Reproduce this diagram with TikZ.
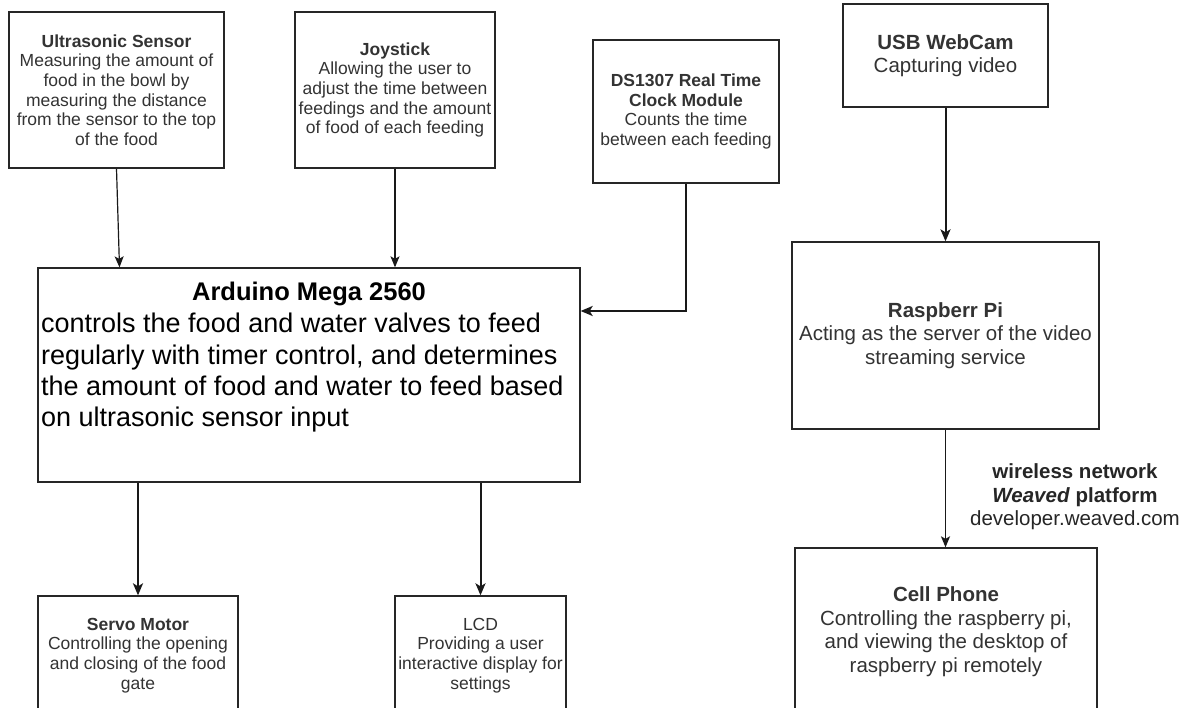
\documentclass[tikz,border=0pt]{standalone}
\usepackage{fontspec}
\setmainfont{Liberation Sans}
\usetikzlibrary{arrows.meta,calc}
\begin{document}
\begin{tikzpicture}[x=1pt,y=-1pt,
  box/.style={draw=black!85, line width=1.3pt, inner sep=0pt, align=center, text=black!80},
  sm/.style={font=\fontsize{17.5}{19.7}\selectfont},
  md/.style={font=\fontsize{20.5}{23.5}\selectfont},
  thinarr/.style={draw=black!90, line width=1.2pt, -{Stealth[length=11pt,width=9pt,inset=2.5pt]}},
  thickarr/.style={draw=black!90, line width=2pt, -{Stealth[length=12pt,width=10pt,inset=3pt]}}]
\useasboundingbox (0,0) rectangle (1186,708);
\clip (0,0) rectangle (1186,708);
\fill[white] (0,0) rectangle (1186,708);

\node[box, sm, minimum width=215pt, minimum height=156pt] (us) at (116.5,90)
  {\textbf{Ultrasonic Sensor}\\Measuring the amount of\\food in the bowl by\\measuring the distance\\from the sensor to the top\\of the food};
\node[box, sm, minimum width=200pt, minimum height=156pt] (joy) at (395,90)
  {\textbf{Joystick}\\Allowing the user to\\adjust the time between\\feedings and the amount\\of food of each feeding};
\node[box, sm, minimum width=186pt, minimum height=143pt] (ds) at (686,111.5)
  {\textbf{DS1307 Real Time}\\\textbf{Clock Module}\\Counts the time\\between each feeding};
\node[box, md, minimum width=205pt, minimum height=103pt] (cam) at (945.5,55.5)
  {\textbf{USB WebCam}\\Capturing video};
\node[box, md, minimum width=307pt, minimum height=187pt] (rpi) at (945.5,335.5)
  {\textbf{Raspberr Pi}\\Acting as the server of the video\\streaming service};
\node[box, md, minimum width=302pt, minimum height=167pt] (cell) at (946,631.5)
  {\textbf{Cell Phone}\\Controlling the raspberry pi,\\and viewing the desktop of\\raspberry pi remotely};
\node[box, minimum width=542pt, minimum height=214pt] (ard) at (309,375) {};
\node[font=\fontsize{25.5}{31}\selectfont\bfseries, inner sep=0pt] (ardt) at (309,294) {Arduino Mega 2560};
\node[font=\fontsize{27}{31.3}\selectfont, inner sep=0pt, align=left, anchor=north west] (ardb) at (41,313)
  {controls the food and water valves to feed\\regularly with timer control, and determines\\the amount of food and water to feed based\\on ultrasonic sensor input};
\node[box, sm, minimum width=200pt, minimum height=119pt] (servo) at (138,655.5)
  {\textbf{Servo Motor}\\Controlling the opening\\and closing of the food\\gate};
\node[box, sm, minimum width=171pt, minimum height=119pt] (lcd) at (480.5,655.5)
  {LCD\\Providing a user\\interactive display for\\settings};

\node[md, align=center, inner sep=0pt, text=black!85] (lbl) at (1075,497)
  {\textbf{wireless network}\\\textbf{\textit{Weaved} platform}\\developer.weaved.com};

\coordinate (dsy) at (0,311);
\draw[thinarr] (us.south) -- ([xshift=3pt]us.south |- ard.north);
\draw[thinarr] (joy.south) -- (joy.south |- ard.north);
\draw[thickarr] (ds.south) -- (ds.south |- dsy) -- (ard.east |- dsy);
\draw[thickarr] (cam.south) -- (rpi.north);
\draw[thinarr, line width=1.5pt] (rpi.south) -- (rpi.south |- cell.north);
\draw[thickarr] (servo.north |- ard.south) -- (servo.north);
\draw[thickarr] (lcd.north |- ard.south) -- (lcd.north);
\end{tikzpicture}
\end{document}
